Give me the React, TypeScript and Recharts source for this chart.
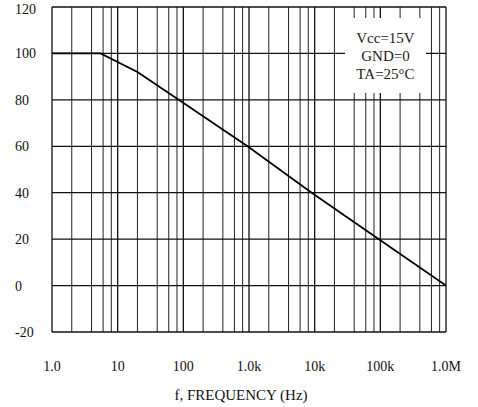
import React from "react";
import { LineChart, Line, XAxis, YAxis, ReferenceLine } from "recharts";

// Frequency response (open-loop gain vs frequency)
const freqHz = [1, 5.5, 20, 85, 950, 9000, 95000, 1000000];
const gainDb = [100, 100, 92, 80, 60, 40, 20, 0];

const freqTicks = [1, 10, 100, 1000, 10000, 100000, 1000000];
const freqTickLabels = ["1.0", "10", "100", "1.0k", "10k", "100k", "1.0M"];
const gainTicks = [-20, 0, 20, 40, 60, 80, 100, 120];

// vertical grid lines (2, 4, 6, 8 in every decade)
const freqGrid = [
  2, 4, 6, 8,
  20, 40, 60, 80,
  200, 400, 600, 800,
  2000, 4000, 6000, 8000,
  20000, 40000, 60000, 80000,
  200000, 400000, 600000, 800000,
];

const legendLines = ["Vcc=15V", "GND=0", "TA=25°C"];
const xTitle = "f, FREQUENCY (Hz)";

const data = freqHz.map((f, i) => ({ f, g: gainDb[i] }));

const FONT = "Liberation Serif";

const YTick = (props: any) => (
  <text x={15} y={props.y + 5} fontFamily={FONT} fontSize={14} fill="#111" textAnchor="start">
    {props.payload.value}
  </text>
);

const XTick = (props: any) => {
  const i = freqTicks.indexOf(props.payload.value);
  return (
    <text x={props.x} y={371} fontFamily={FONT} fontSize={14} fill="#111" textAnchor="middle">
      {freqTickLabels[i]}
    </text>
  );
};

const XTitle = (props: any) => {
  const vb = props.viewBox || {};
  return (
    <text x={vb.x + vb.width / 2 - 8} y={400} fontFamily={FONT} fontSize={15} fill="#111" textAnchor="middle">
      {xTitle}
    </text>
  );
};

export default function App() {
  return (
    <div style={{ position: "absolute", left: 0, top: 0, width: 478, height: 407, background: "#fff", fontFamily: FONT }}>
      <LineChart
        width={478}
        height={407}
        data={data}
        margin={{ top: 7, right: 32, bottom: 0, left: 0 }}
        style={{ fontFamily: FONT }}
      >
        <XAxis
          dataKey="f"
          type="number"
          scale="log"
          domain={[1, 1000000]}
          ticks={freqTicks}
          tick={XTick}
          tickLine={false}
          axisLine={false}
          height={75}
          allowDataOverflow
          label={<XTitle />}
        />
        <YAxis
          type="number"
          domain={[-20, 120]}
          ticks={gainTicks}
          tick={YTick}
          tickLine={false}
          axisLine={false}
          width={52}
        />
        {freqGrid.map((v) => (
          <ReferenceLine key={"v" + v} x={v} stroke="#222" strokeWidth={1} />
        ))}
        {freqTicks.map((v) => (
          <ReferenceLine key={"d" + v} x={v} stroke="#111" strokeWidth={1.3} />
        ))}
        {gainTicks.map((v) => (
          <ReferenceLine key={"h" + v} y={v} stroke="#111" strokeWidth={1.3} />
        ))}
        <Line
          dataKey="g"
          type="linear"
          stroke="#000"
          strokeWidth={1.8}
          dot={false}
          isAnimationActive={false}
        />
      </LineChart>
      <div
        style={{
          position: "absolute",
          left: 345,
          top: 18,
          width: 81,
          height: 75,
          background: "#fff",
          display: "flex",
          flexDirection: "column",
          alignItems: "center",
          justifyContent: "center",
          fontSize: 15,
          lineHeight: "18px",
          color: "#222",
        }}
      >
        {legendLines.map((t) => (
          <div key={t}>{t}</div>
        ))}
      </div>
    </div>
  );
}
